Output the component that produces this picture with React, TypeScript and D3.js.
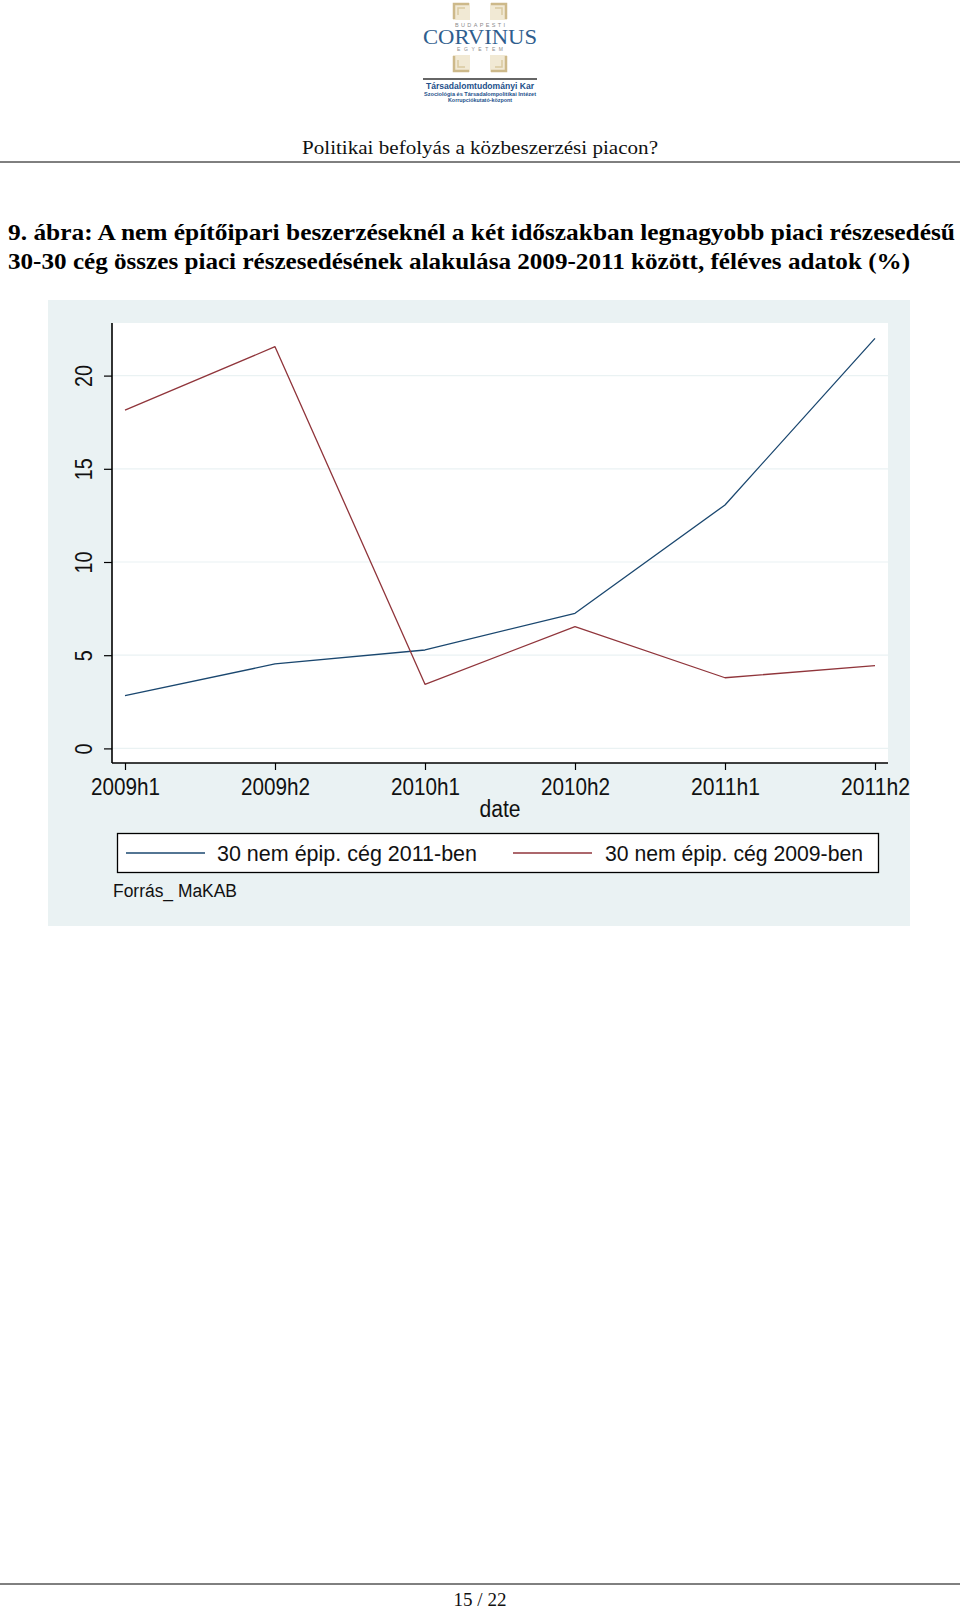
import React, {useEffect, useRef} from 'react';
import * as d3 from 'd3';

// half-year periods on the x axis
const periods = ['2009h1', '2009h2', '2010h1', '2010h2', '2011h1', '2011h2'];
// market share (%) of the top 30 non-construction firms of 2011
const top2011 = [2.83, 4.53, 5.28, 7.25, 13.06, 22.0];
// market share (%) of the top 30 non-construction firms of 2009
const top2009 = [18.15, 21.55, 3.44, 6.53, 3.79, 4.44];
const yTicks = [0, 5, 10, 15, 20];
const seriesNames = ['30 nem épip. cég 2011-ben', '30 nem épip. cég 2009-ben'];

const BLUE = '#1a476f';
const RED = '#90353b';
const BG = '#eaf2f3';
const SANS = '"Liberation Sans", Arial, sans-serif';
const SERIF = '"Liberation Serif", "Times New Roman", serif';

function Chart() {
    const ref = useRef<SVGGElement>(null);

    useEffect(() => {
        const g = d3.select(ref.current);
        g.selectAll('*').remove();

        const left = 112, right = 888, top = 323, bottom = 763;
        const x = d3.scalePoint().domain(periods).range([125, 875]);
        const y = d3.scaleLinear().domain([0, 20]).range([748.4, 375.6]);

        // outer graph region and plot region
        g.append('rect').attr('x', 48).attr('y', 300).attr('width', 862).attr('height', 626).attr('fill', BG);
        g.append('rect').attr('x', left).attr('y', top).attr('width', right - left).attr('height', bottom - top).attr('fill', '#ffffff');

        // grid lines
        g.selectAll('.grid')
            .data(yTicks)
            .enter()
            .append('line')
            .attr('x1', left)
            .attr('x2', right)
            .attr('y1', (d) => y(d))
            .attr('y2', (d) => y(d))
            .attr('stroke', BG)
            .attr('stroke-width', 1.2);

        // y axis
        const yAxis = g.append('g')
            .attr('transform', `translate(${left},0)`)
            .call(d3.axisLeft(y).tickValues(yTicks).tickSize(8).tickPadding(0).tickFormat(d3.format('d')));
        yAxis.select('.domain').attr('d', `M0,${top}V${bottom}`).attr('stroke', '#000').attr('stroke-width', 1.6);
        yAxis.selectAll('.tick line').attr('stroke', '#000').attr('stroke-width', 1.2);
        yAxis.selectAll('.tick text')
            .attr('x', null)
            .attr('dy', null)
            .attr('transform', 'translate(-20,0) rotate(-90)')
            .attr('text-anchor', 'middle')
            .attr('fill', '#111')
            .style('font-family', SANS)
            .style('font-size', '23px')
            .attr('textLength', (d) => (String(d).length * 11))
            .attr('lengthAdjust', 'spacingAndGlyphs');

        // x axis
        const xAxis = g.append('g')
            .attr('transform', `translate(0,${bottom})`)
            .call(d3.axisBottom(x).tickSize(7).tickPadding(0));
        xAxis.select('.domain').attr('d', `M${left},0H${right}`).attr('stroke', '#000').attr('stroke-width', 1.6);
        xAxis.selectAll('.tick line').attr('stroke', '#000').attr('stroke-width', 1.2);
        xAxis.selectAll('.tick text')
            .attr('y', 32)
            .attr('dy', null)
            .attr('fill', '#111')
            .style('font-family', SANS)
            .style('font-size', '24px')
            .attr('textLength', 69)
            .attr('lengthAdjust', 'spacingAndGlyphs');

        g.append('text')
            .attr('x', (left + right) / 2)
            .attr('y', 817)
            .attr('text-anchor', 'middle')
            .attr('fill', '#111')
            .style('font-family', SANS)
            .style('font-size', '23px')
            .attr('textLength', 41)
            .attr('lengthAdjust', 'spacingAndGlyphs')
            .text('date');

        // lines
        const line = d3.line<number>()
            .x((_, i) => x(periods[i]) as number)
            .y((d) => y(d));

        [top2011, top2009].forEach((vals, i) => {
            g.append('path')
                .attr('d', line(vals))
                .attr('fill', 'none')
                .attr('stroke', i === 0 ? BLUE : RED)
                .attr('stroke-width', 1.3)
                .attr('stroke-linejoin', 'round');
        });

        // legend
        g.append('rect').attr('x', 117.5).attr('y', 833.5).attr('width', 761).attr('height', 39)
            .attr('fill', '#fff').attr('stroke', '#000').attr('stroke-width', 1.3);
        const legendPos = [{x1: 126, x2: 205, tx: 217, tw: 260}, {x1: 513, x2: 592, tx: 605, tw: 258}];
        seriesNames.forEach((name, i) => {
            const p = legendPos[i];
            g.append('line').attr('x1', p.x1).attr('x2', p.x2).attr('y1', 853).attr('y2', 853)
                .attr('stroke', i === 0 ? BLUE : RED).attr('stroke-width', 1.3);
            g.append('text')
                .attr('x', p.tx)
                .attr('y', 861)
                .attr('fill', '#111')
                .style('font-family', SANS)
                .style('font-size', '22px')
                .attr('textLength', p.tw)
                .attr('lengthAdjust', 'spacingAndGlyphs')
                .text(name);
        });

        g.append('text')
            .attr('x', 113)
            .attr('y', 897)
            .attr('fill', '#111')
            .style('font-family', SANS)
            .style('font-size', '18px')
            .attr('textLength', 124)
            .attr('lengthAdjust', 'spacingAndGlyphs')
            .text('Forrás_ MaKAB');
    }, []);

    return <g ref={ref}/>;
}

function Ornament({x, y, flipX, flipY}: {x: number, y: number, flipX: boolean, flipY: boolean}) {
    const sx = flipX ? -1 : 1;
    const sy = flipY ? -1 : 1;
    return (
        <g transform={`translate(${x},${y}) scale(${sx},${sy})`}>
            <rect x={0} y={0} width={17} height={17} fill="#f1e9d4"/>
            <path d="M1,16V1H16" fill="none" stroke="#cdb98a" strokeWidth={2.5}/>
            <path d="M5,12V5H12" fill="none" stroke="#d9c9a0" strokeWidth={1.5}/>
        </g>
    );
}

function Logo() {
    return (
        <g>
            <Ornament x={453} y={3} flipX={false} flipY={false}/>
            <Ornament x={507} y={3} flipX={true} flipY={false}/>
            <Ornament x={453} y={72} flipX={false} flipY={true}/>
            <Ornament x={507} y={72} flipX={true} flipY={true}/>
            <text x={480} y={27} textAnchor="middle" fontFamily={SANS} fontSize={5.5} fill="#8a8a8a"
                  textLength={50} lengthAdjust="spacing">BUDAPESTI</text>
            <text x={480} y={44} textAnchor="middle" fontFamily={SERIF} fontSize={21} fill="#2f5e8e"
                  textLength={114} lengthAdjust="spacingAndGlyphs">CORVINUS</text>
            <text x={480} y={51} textAnchor="middle" fontFamily={SANS} fontSize={5} fill="#8a8a8a"
                  textLength={46} lengthAdjust="spacing">EGYETEM</text>
            <line x1={423} x2={537} y1={79} y2={79} stroke="#333" strokeWidth={1.6}/>
            <text x={480} y={88.5} textAnchor="middle" fontFamily={SANS} fontWeight="bold" fontSize={8.5} fill="#23508a"
                  textLength={108} lengthAdjust="spacingAndGlyphs">Társadalomtudományi Kar</text>
            <text x={480} y={96} textAnchor="middle" fontFamily={SANS} fontWeight="bold" fontSize={5.5} fill="#23508a"
                  textLength={112} lengthAdjust="spacingAndGlyphs">Szociológia és Társadalompolitikai Intézet</text>
            <text x={480} y={102} textAnchor="middle" fontFamily={SANS} fontWeight="bold" fontSize={5} fill="#23508a"
                  textLength={64} lengthAdjust="spacingAndGlyphs">Korrupciókutató-központ</text>
        </g>
    );
}

export default function App() {
    return (
        <div style={{position: 'absolute', left: 0, top: 0}}>
            <svg width={960} height={1610} style={{display: 'block', background: '#fff'}}>
                <Logo/>
                <text x={480} y={154} textAnchor="middle" fontFamily={SERIF} fontSize={19} fill="#111"
                      textLength={356} lengthAdjust="spacingAndGlyphs">Politikai befolyás a közbeszerzési piacon?</text>
                <line x1={0} x2={960} y1={162} y2={162} stroke="#000" strokeWidth={1}/>

                <text x={8} y={240} fontFamily={SERIF} fontWeight="bold" fontSize={24} fill="#000"
                      textLength={947} lengthAdjust="spacingAndGlyphs">9. ábra: A nem építőipari beszerzéseknél a két időszakban legnagyobb piaci részesedésű</text>
                <text x={8} y={269} fontFamily={SERIF} fontWeight="bold" fontSize={24} fill="#000"
                      textLength={902} lengthAdjust="spacingAndGlyphs">30-30 cég összes piaci részesedésének alakulása 2009-2011 között, féléves adatok (%)</text>

                <Chart/>

                <line x1={0} x2={960} y1={1584} y2={1584} stroke="#000" strokeWidth={1}/>
                <text x={480} y={1606} textAnchor="middle" fontFamily={SERIF} fontSize={19} fill="#111">15 / 22</text>
            </svg>
        </div>
    );
}
